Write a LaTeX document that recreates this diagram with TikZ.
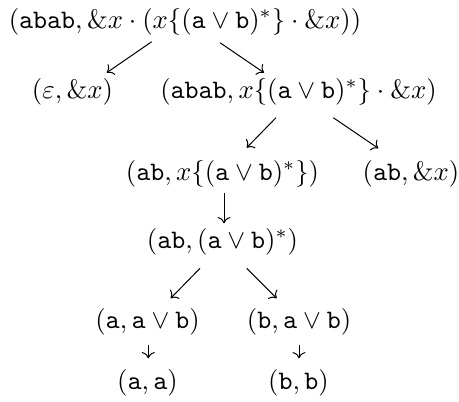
\RequirePackage{fix-cm}
\documentclass[tikz,border=0pt]{standalone}
\usepackage{amsmath,amssymb}
\usetikzlibrary{arrows.meta, positioning, calc}
\newcommand{\lt}[1]{\mathtt{#1}}

\begin{document}
\begin{tikzpicture}[x=0.4pt, y=-0.4pt,
    state/.style={anchor=base, inner sep=0pt, font=\fontsize{10.67}{12.8}\selectfont},
    arr/.style={->, thin}]
  \useasboundingbox (0,0) rectangle (459,401);
  % states
  \node[state] (root) at (185,28.5) {$(\lt{abab}, \&x \cdot (x\{(\lt{a} \vee \lt{b})^*\} \cdot \&x))$};
  \node[state] (eps) at (72.5,98.5) {$(\varepsilon, \&x)$};
  \node[state] (abab) at (298.5,98.5) {$(\lt{abab}, x\{(\lt{a} \vee \lt{b})^*\} \cdot \&x)$};
  \node[state] (abx) at (222.5,180.5) {$(\lt{ab}, x\{(\lt{a} \vee \lt{b})^*\})$};
  \node[state] (abamp) at (411,180.5) {$(\lt{ab}, \&x)$};
  \node[state] (abst) at (222.5,248.5) {$(\lt{ab}, (\lt{a} \vee \lt{b})^*)$};
  \node[state] (aor) at (147.5,328.5) {$(\lt{a}, \lt{a} \vee \lt{b})$};
  \node[state] (bor) at (299,328.5) {$(\lt{b}, \lt{a} \vee \lt{b})$};
  \node[state] (aa) at (147.5,389) {$(\lt{a}, \lt{a})$};
  \node[state] (bb) at (298.5,389) {$(\lt{b}, \lt{b})$};
  % steps
  \draw[arr] ($(root.base)+(-33.3,13.2)$) -- ($(eps.base)+(34.2,-25.8)$);
  \draw[arr] ($(root.base)+(35,14.2)$) -- ($(abab.base)+(-34.5,-25.8)$);
  \draw[arr] ($(abab.base)+(-22.5,19.2)$) -- ($(abx.base)+(24.2,-32.8)$);
  \draw[arr] ($(abab.base)+(34.8,19.2)$) -- ($(abamp.base)+(-32.7,-32.2)$);
  \draw[arr] ($(abx.base)+(1.5,12.8)$) -- ($(abst.base)+(1.5,-25.2)$);
  \draw[arr] ($(abst.base)+(-22.5,19.8)$) -- ($(aor.base)+(23.2,-30.2)$);
  \draw[arr] ($(abst.base)+(24.2,19.8)$) -- ($(bor.base)+(-22.3,-30.2)$);
  \draw[arr] ($(aor.base)+(0.8,16.5)$) -- ($(aa.base)+(0.8,-30.7)$);
  \draw[arr] ($(bor.base)+(0,16.5)$) -- ($(bb.base)+(0.5,-30.7)$);
\end{tikzpicture}
\end{document}
